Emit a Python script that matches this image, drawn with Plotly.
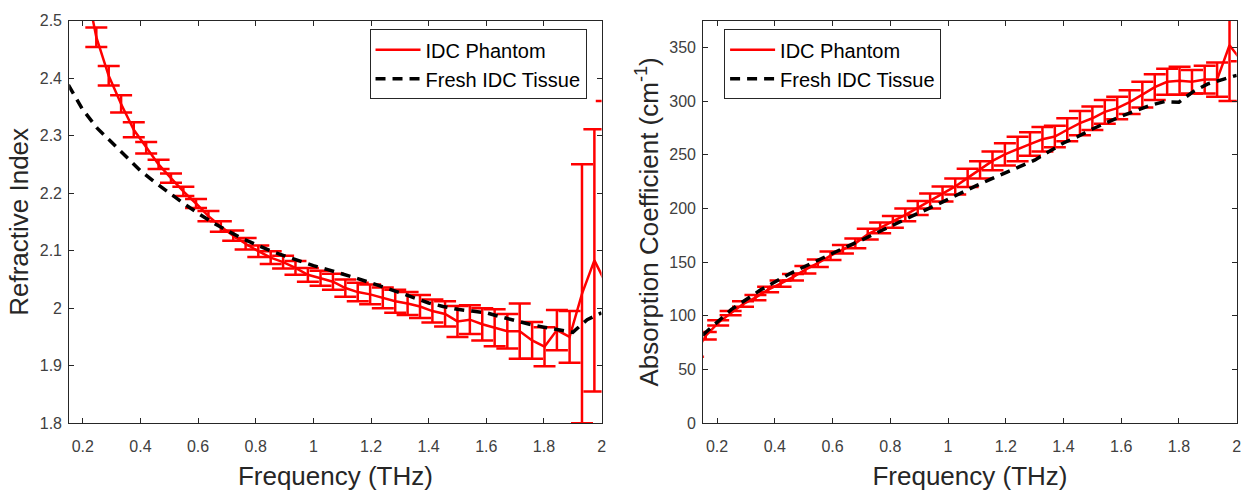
import plotly.graph_objects as go

# ---------------- data ----------------
freq_phantom = [0.117, 0.161, 0.204, 0.247, 0.290, 0.333, 0.377, 0.420, 0.463, 0.506,
                0.549, 0.593, 0.636, 0.679, 0.722, 0.765, 0.809, 0.852, 0.895, 0.938,
                0.981, 1.025, 1.068, 1.111, 1.154, 1.197, 1.241, 1.284, 1.327, 1.370,
                1.413, 1.457, 1.500, 1.543, 1.586, 1.629, 1.673, 1.716, 1.759, 1.802,
                1.845, 1.889, 1.932, 1.975, 2.018]

n_phantom = [2.85, 2.70, 2.58, 2.471, 2.404, 2.355, 2.310, 2.279, 2.250, 2.226,
             2.203, 2.182, 2.160, 2.142, 2.126, 2.112, 2.099, 2.088, 2.080, 2.070,
             2.058, 2.052, 2.046, 2.035, 2.028, 2.024, 2.018, 2.012, 2.008, 2.003,
             1.995, 1.990, 1.977, 1.980, 1.972, 1.966, 1.960, 1.960, 1.944, 1.933,
             1.962, 1.950, 2.025, 2.083, 2.040]
n_phantom_err = [None, 0.020, 0.020, 0.017, 0.017, 0.015, 0.013, 0.010, 0.008, 0.008,
                 0.008, 0.008, 0.009, 0.009, 0.009, 0.010, 0.010, 0.011, 0.011, 0.012,
                 0.012, 0.013, 0.014, 0.015, 0.016, 0.017, 0.018, 0.020, 0.020, 0.020,
                 0.020, 0.022, 0.027, 0.025, 0.028, 0.032, 0.030, 0.048, 0.032, 0.034,
                 0.035, 0.045, 0.225, 0.228, 0.320]

a_phantom = [62, 81.5, 93.5, 102.5, 111, 117, 124.5, 130, 136, 143,
             149, 156, 162, 167.5, 176, 182, 187.5, 194, 200.5, 207,
             213.5, 220.5, 228.5, 236, 244.3, 250.4, 255.4, 260, 264.4, 267,
             273.3, 279.5, 284, 290, 293.5, 299, 306, 313, 318, 319,
             318, 320, 320, 352, 337]
a_phantom_err = [None, 3.5, 2.5, 2, 2.5, 2.5, 2.5, 3, 3, 3.5,
                 3.5, 4, 4, 4.5, 5, 5, 5.5, 6, 6.5, 7,
                 7, 7.5, 8.5, 8, 8.7, 10.4, 11.4, 11, 11.4, 10,
                 10.7, 11.3, 11, 11, 10.5, 11, 12, 12, 12, 13,
                 11, 13, 16, 52, None]

freq_tissue = [0.15, 0.20, 0.25, 0.30, 0.35, 0.40, 0.45, 0.50, 0.55, 0.60,
               0.65, 0.70, 0.75, 0.80, 0.85, 0.90, 0.95, 1.00, 1.05, 1.10,
               1.15, 1.20, 1.25, 1.30, 1.35, 1.40, 1.45, 1.50, 1.55, 1.60,
               1.65, 1.70, 1.75, 1.80, 1.85, 1.90, 1.95, 2.00]
n_tissue = [2.388, 2.345, 2.313, 2.289, 2.263, 2.239, 2.219, 2.200, 2.182, 2.165,
            2.149, 2.135, 2.122, 2.111, 2.100, 2.091, 2.082, 2.074, 2.067, 2.060,
            2.052, 2.044, 2.036, 2.027, 2.018, 2.009, 2.003, 1.998, 1.995, 1.992,
            1.985, 1.978, 1.972, 1.967, 1.963, 1.958, 1.980, 1.992]
a_tissue = [82, 94, 106, 115, 124, 131.5, 139, 145.5, 152, 158.5,
            164.5, 170.5, 177, 183, 189.5, 196, 202, 208.5, 215.5, 221.5,
            227.5, 233.5, 239, 245, 253, 261, 267, 274, 280, 286,
            291, 296, 299.5, 299, 309, 316, 320, 324]

x_tickvals = [0.2, 0.4, 0.6, 0.8, 1.0, 1.2, 1.4, 1.6, 1.8, 2.0]
x_ticktext = ["0.2", "0.4", "0.6", "0.8", "1", "1.2", "1.4", "1.6", "1.8", "2"]
n_tickvals = [1.8, 1.9, 2.0, 2.1, 2.2, 2.3, 2.4, 2.5]
n_ticktext = ["1.8", "1.9", "2", "2.1", "2.2", "2.3", "2.4", "2.5"]
a_tickvals = [0, 50, 100, 150, 200, 250, 300, 350]
a_ticktext = ["0", "50", "100", "150", "200", "250", "300", "350"]

name_phantom = "IDC Phantom"
name_tissue = "Fresh IDC Tissue"

# ---------------- style ----------------
FONT = "Liberation Sans, Arial, Helvetica, sans-serif"
AX = "#262626"
TICKC = "#404040"
RED = "#ff0000"

fig = go.Figure()

def add_pair(xa, ya, yph, yerr, ytis, leg):
    fig.add_trace(go.Scatter(
        x=freq_phantom, y=yph, mode="lines", name=name_phantom,
        line=dict(color=RED, width=2.5),
        error_y=dict(type="data", array=yerr, visible=True, color=RED,
                     thickness=2.5, width=11),
        xaxis=xa, yaxis=ya, legend=leg, hoverinfo="skip"))
    fig.add_trace(go.Scatter(
        x=freq_tissue, y=ytis, mode="lines", name=name_tissue,
        line=dict(color="black", width=3.5, dash="10px,7px"),
        xaxis=xa, yaxis=ya, legend=leg, hoverinfo="skip"))

add_pair("x", "y", n_phantom, n_phantom_err, n_tissue, "legend")
add_pair("x2", "y2", a_phantom, a_phantom_err, a_tissue, "legend2")

common_axis = dict(
    showline=True, linecolor=AX, linewidth=1, mirror="ticks",
    ticks="inside", ticklen=5, tickwidth=1, tickcolor=AX,
    showgrid=False, zeroline=False,
    tickfont=dict(family=FONT, size=16, color=TICKC),
)

TITLE_FONT = dict(family=FONT, size=26, color=AX)
ydom = [65 / 495, 482 / 495]

fig.update_layout(
    width=1250, height=495,
    margin=dict(l=0, r=0, t=0, b=0),
    paper_bgcolor="white", plot_bgcolor="white",
    font=dict(family=FONT, color=AX),
    xaxis=dict(domain=[69.5 / 1250, 604 / 1250], range=[0.153, 2.0],
               tickvals=x_tickvals, ticktext=x_ticktext, ticklabelstandoff=9,
               title=dict(text="Frequency (THz)", font=TITLE_FONT, standoff=12),
               anchor="y", **common_axis),
    yaxis=dict(domain=ydom, range=[1.8, 2.5],
               tickvals=n_tickvals, ticktext=n_ticktext, ticklabelstandoff=3,
               title=dict(text="Refractive Index", font=TITLE_FONT, standoff=3),
               anchor="x", **common_axis),
    xaxis2=dict(domain=[706 / 1250, 1241.7 / 1250], range=[0.152, 2.0],
                tickvals=x_tickvals, ticktext=x_ticktext, ticklabelstandoff=9,
                title=dict(text="Frequency (THz)", font=TITLE_FONT, standoff=12),
                anchor="y2", **common_axis),
    yaxis2=dict(domain=ydom, range=[0, 375],
                tickvals=a_tickvals, ticktext=a_ticktext, ticklabelstandoff=3,
                title=dict(text="Absorption Coefficient (cm<sup>-1</sup>)", font=TITLE_FONT, standoff=3),
                anchor="x2", **common_axis),
    legend=dict(x=371 / 1250, y=1 - 22 / 495, xanchor="left", yanchor="top",
                bgcolor="white", bordercolor=AX, borderwidth=1,
                font=dict(family=FONT, size=20, color="black"),
                itemwidth=45, tracegroupgap=0),
    legend2=dict(x=727 / 1250, y=1 - 22 / 495, xanchor="left", yanchor="top",
                 bgcolor="white", bordercolor=AX, borderwidth=1,
                 font=dict(family=FONT, size=20, color="black"),
                 itemwidth=45, tracegroupgap=0),
    showlegend=True,
)

fig.write_html("out.html")
